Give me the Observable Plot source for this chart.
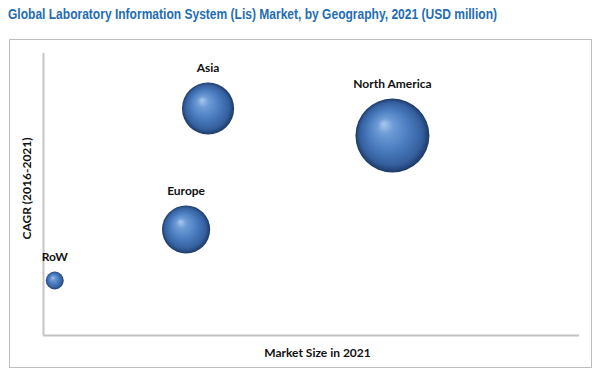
<!DOCTYPE html>
<html>
<head>
<meta charset="utf-8">
<script src="https://cdn.jsdelivr.net/npm/d3@7"></script>
<script src="https://cdn.jsdelivr.net/npm/@observablehq/plot@0.6"></script>
<style>
  html, body { margin: 0; padding: 0; background: #fff; }
  #title { position: absolute; left: 8px; top: 5px; font-family: "Liberation Sans Narrow", "Liberation Sans", sans-serif; font-weight: bold; font-size: 15px; color: #1f6db3; white-space: nowrap; transform-origin: 0 0; }
  #frame { position: absolute; left: 9px; top: 39px; width: 583px; height: 329px; border: 1px solid #bdbdbd; box-sizing: border-box; }
  #chart { position: absolute; left: 0; top: 0; }
</style>
</head>
<body>
<div id="title">Global Laboratory Information System (Lis) Market, by Geography, 2021 (USD million)</div>
<div id="frame"><div id="chart"></div></div>
<script>
const regions = ["North America", "Asia", "Europe", "RoW"];
const marketSize = [65.1, 30.7, 26.6, 2.1];   // x position (index, no ticks shown)
const cagr = [70.9, 80.5, 37.6, 19.5];        // y position (index, no ticks shown)
const bubbleSize = [13.7, 6.8, 5.8, 0.8];     // bubble area measure
const xLabel = "Market Size in 2021";
const yLabel = "CAGR (2016-2021)";

const data = regions.map((name, i) => ({name, x: marketSize[i], y: cagr[i], s: bubbleSize[i]}));

const rOpts = {type: "sqrt", domain: [0, 13.7], range: [0, 37]};
const rScale = Plot.scale({r: rOpts});

const labelFont = "Lato, 'Open Sans', sans-serif";

const plot = Plot.plot({
  width: 581,
  height: 327,
  marginLeft: 33,
  marginTop: 13,
  marginBottom: 32,
  marginRight: 12,
  x: {domain: [0, 100], axis: null},
  y: {domain: [0, 100], axis: null},
  r: rOpts,
  style: {fontFamily: labelFont, background: "transparent", overflow: "visible"},
  marks: [
    Plot.ruleX([0], {stroke: "#c3c3c3", strokeWidth: 2}),
    Plot.ruleY([0], {stroke: "#c3c3c3", strokeWidth: 2}),
    Plot.dot(data, {x: "x", y: "y", r: "s", fill: "url(#sphere)", stroke: "none"}),
    ...data.map(d => Plot.text([d], {
      x: "x", y: "y", text: "name",
      dy: -(rScale.apply(d.s) + 14),
      fontWeight: "bold", fontSize: 12, fill: "#111"
    })),
    Plot.text([yLabel], {frameAnchor: "left", textAnchor: "middle", lineAnchor: "middle", rotate: -90, dx: -16, dy: -6, fontWeight: "bold", fontSize: 12, fill: "#111"}),
    Plot.text([xLabel], {frameAnchor: "bottom", textAnchor: "middle", lineAnchor: "middle", dy: 18, dx: 6, fontWeight: "bold", fontSize: 12, fill: "#111"})
  ]
});

const svg = d3.select(plot);
const defs = svg.insert("defs", ":first-child");
const g = defs.append("radialGradient")
  .attr("id", "sphere")
  .attr("cx", "50%").attr("cy", "50%").attr("r", "50%")
  .attr("fx", "38%").attr("fy", "34%");
[
  ["0%", "#a9c9ee"],
  ["22%", "#6d9bd6"],
  ["55%", "#4a7cbf"],
  ["85%", "#345f9d"],
  ["100%", "#1c3966"]
].forEach(([o, c]) => g.append("stop").attr("offset", o).attr("stop-color", c));

document.getElementById("chart").appendChild(plot);

// fit the title to the reference width
const t = document.getElementById("title");
const w = t.getBoundingClientRect().width;
t.style.transform = `scale(${489 / w}, 1)`;
</script>
</body>
</html>
